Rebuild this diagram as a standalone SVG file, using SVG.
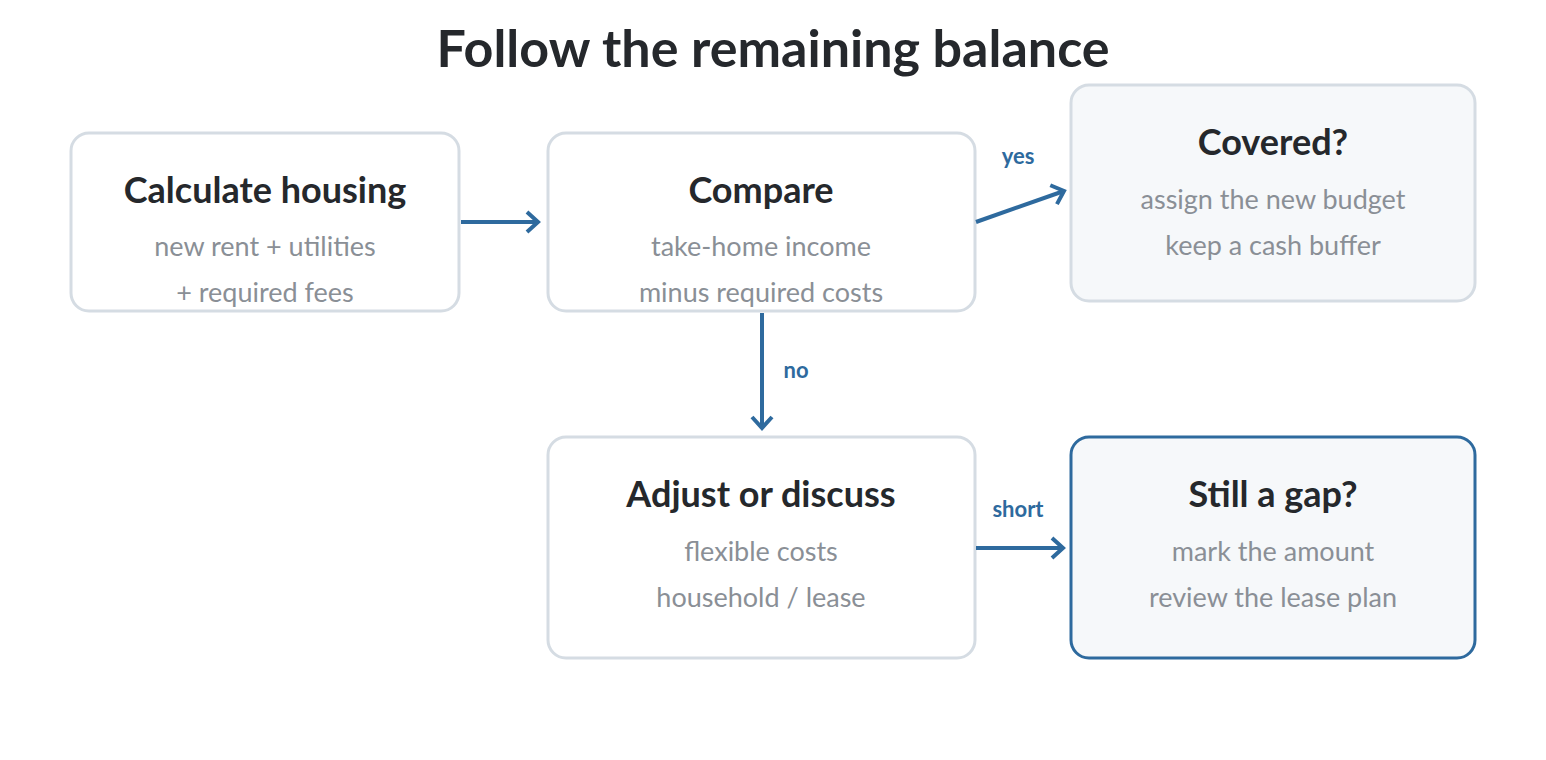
<svg xmlns="http://www.w3.org/2000/svg" width="1546" height="760" viewBox="0 0 1546 760">
<style>
text{font-family:Lato,"Open Sans",sans-serif;text-anchor:middle}
.t{font-size:36px;font-weight:bold;fill:#25282c}
.s{font-size:27px;fill:#8a8f96}
.b{fill:#fff;stroke:#d5dce3;stroke-width:3}
.g{fill:#f6f8fa}
.e{stroke:#2e6a9e;stroke-width:4;fill:none}
.l{font-size:22px;font-weight:bold;fill:#2e6a9e}
</style>
<defs><marker id="a" viewBox="0 0 10 10" refX="10" refY="5" markerWidth="10" markerHeight="10" orient="auto" markerUnits="userSpaceOnUse" overflow="visible"><path d="M-1,-5 L10,5 L-1,15" fill="none" stroke="#2e6a9e" stroke-width="4"/></marker></defs>
<rect width="1546" height="760" fill="#fff"/>
<text x="773" y="67" style="font-size:52px;font-weight:bold;fill:#25282c">Follow the remaining balance</text>
<g id="n1"><rect class="b" x="71" y="133" width="388" height="178" rx="18"/><text class="t" x="265" y="203">Calculate housing</text><text class="s" x="265" y="256">new rent + utilities</text><text class="s" x="265" y="302">+ required fees</text></g>
<g id="n2"><rect class="b" x="548" y="133" width="427" height="178" rx="18"/><text class="t" x="761" y="203">Compare</text><text class="s" x="761" y="256">take-home income</text><text class="s" x="761" y="302">minus required costs</text></g>
<g id="n3"><rect class="b g" x="1071" y="85" width="404" height="216" rx="18"/><text class="t" x="1273" y="155">Covered?</text><text class="s" x="1273" y="209">assign the new budget</text><text class="s" x="1273" y="255">keep a cash buffer</text></g>
<g id="n4"><rect class="b" x="548" y="437" width="427" height="221" rx="18"/><text class="t" x="761" y="507">Adjust or discuss</text><text class="s" x="761" y="561">flexible costs</text><text class="s" x="761" y="607">household / lease</text></g>
<g id="n5"><rect class="b g" style="stroke:#2e6a9e" x="1071" y="437" width="404" height="221" rx="18"/><text class="t" x="1273" y="507">Still a gap?</text><text class="s" x="1273" y="561">mark the amount</text><text class="s" x="1273" y="607">review the lease plan</text></g>
<g id="edges">
<path class="e" d="M461,222 H538" marker-end="url(#a)"/>
<path class="e" d="M976,222 L1064,191" marker-end="url(#a)"/>
<path class="e" d="M762,313 V428" marker-end="url(#a)"/>
<path class="e" d="M976,548 H1063" marker-end="url(#a)"/>
<text class="l" x="1018" y="164">yes</text>
<text class="l" x="796" y="378">no</text>
<text class="l" x="1018" y="517">short</text>
</g>
</svg>
